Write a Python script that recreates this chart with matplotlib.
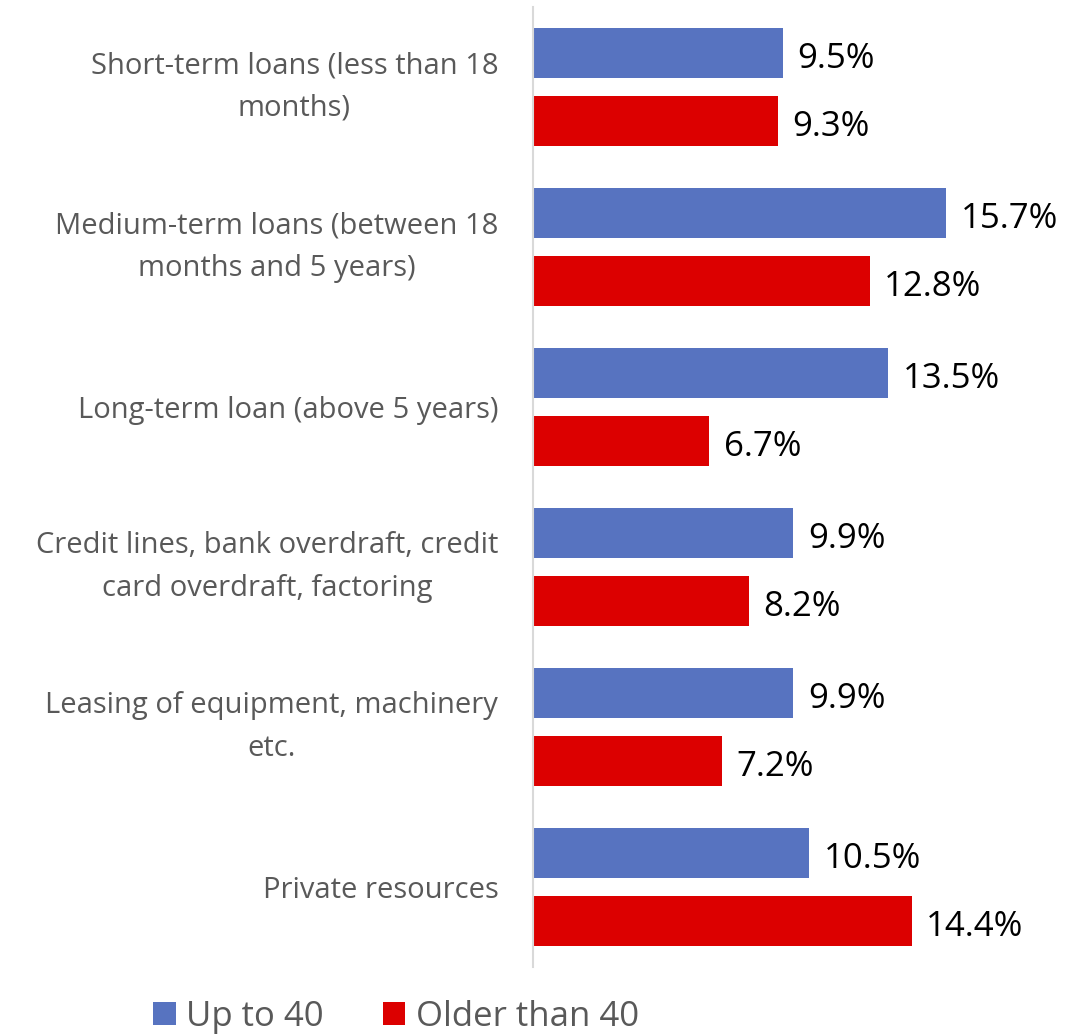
import matplotlib.pyplot as plt
import numpy as np

plt.rcParams['font.family'] = ['Open Sans', 'DejaVu Sans']

categories = [
    "Short-term loans (less than 18\nmonths)",
    "Medium-term loans (between 18\nmonths and 5 years)",
    "Long-term loan (above 5 years)",
    "Credit lines, bank overdraft, credit\ncard overdraft, factoring",
    "Leasing of equipment, machinery\netc.",
    "Private resources",
]
up_to_40 = [9.5, 15.7, 13.5, 9.9, 9.9, 10.5]
older_than_40 = [9.3, 12.8, 6.7, 8.2, 7.2, 14.4]

BLUE = "#5773C0"
RED = "#DC0000"
GRAY = "#595959"

fig = plt.figure(figsize=(10.89, 10.34), dpi=100)
ax = fig.add_axes([533 / 1089, 1 - 967 / 1034, 526 / 1089, 960 / 1034])

y = np.arange(len(categories))
h = 0.3125
off = 0.2125
b1 = ax.barh(y - off, up_to_40, height=h, color=BLUE, label="Up to 40")
b2 = ax.barh(y + off, older_than_40, height=h, color=RED, label="Older than 40")

# value labels sit a touch below the bar centre
for bars, vals in ((b1, up_to_40), (b2, older_than_40)):
    for bar, v in zip(bars, vals):
        ax.text(v + 0.55, bar.get_y() + bar.get_height() / 2 + 0.035, f"{v:.1f}%",
                va="center", ha="left", fontsize=25, color="black")

ax.set_xlim(0, 20)
ax.set_ylim(len(categories) - 0.5, -0.5)
ax.set_xticks([])
ax.set_yticks(y)
ax.set_yticklabels(categories, fontsize=21, color=GRAY,
                   multialignment="center", linespacing=1.6)
for lbl in ax.get_yticklabels():
    if "\n" in lbl.get_text():
        lbl.set_verticalalignment("center")
ax.tick_params(axis="y", length=0, pad=25)

for side in ("top", "right", "bottom"):
    ax.spines[side].set_visible(False)
ax.spines["left"].set_color("#D9D9D9")
ax.spines["left"].set_linewidth(1.5)

fig.legend(handles=[b1, b2], loc="center", bbox_to_anchor=(396 / 1089, 1 - 1017 / 1034),
           ncol=2, frameon=False, fontsize=25, labelcolor=GRAY,
           handlelength=0.65, handleheight=0.65, handletextpad=0.3, columnspacing=1.7,
           borderpad=0, borderaxespad=0)

fig.savefig("out.png", dpi=100)
